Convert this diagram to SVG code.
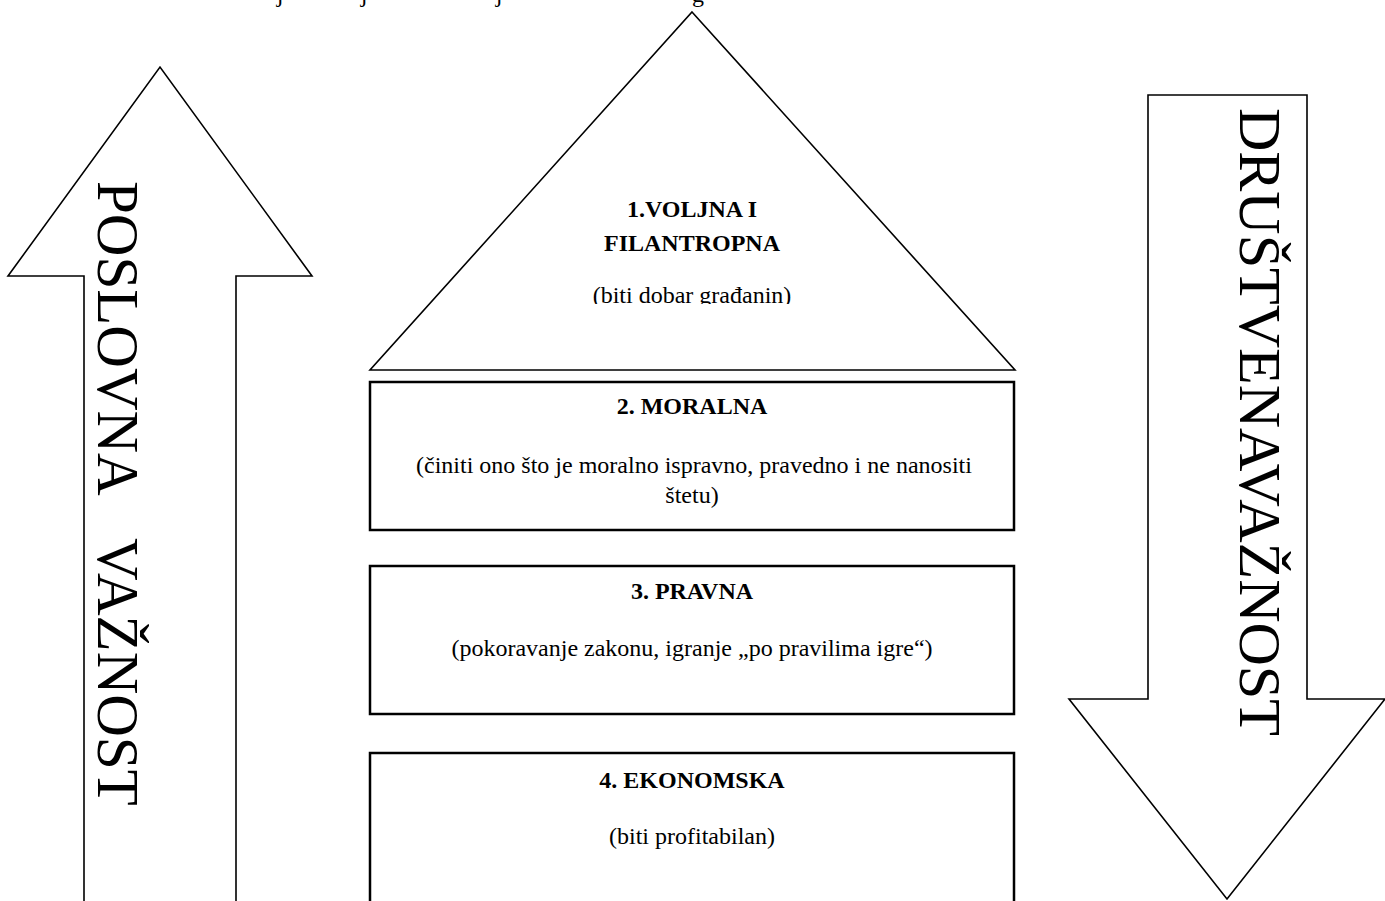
<svg xmlns="http://www.w3.org/2000/svg" width="1385" height="901" viewBox="0 0 1385 901">
<style>
.shape{fill:#fff;stroke:#000;stroke-width:1.6}
.box{fill:#fff;stroke:#000;stroke-width:2.5}
.h{font-family:"Liberation Serif","Times New Roman",serif;font-weight:bold;font-size:24px;text-anchor:middle;fill:#000}
.t{font-family:"Liberation Serif","Times New Roman",serif;font-size:24px;text-anchor:middle;fill:#000}
.v{font-family:"Liberation Serif","Times New Roman",serif;font-size:59px;fill:#000}
</style>
<defs>
<clipPath id="clipTri"><rect x="0" y="0" width="1385" height="304"/></clipPath>
</defs>
<rect x="0" y="0" width="1385" height="901" fill="#fff"/>
<g id="top-fragments">
<text class="t" x="280" y="2">j</text>
<text class="t" x="364" y="2">j</text>
<text class="t" x="499" y="2">j</text>
<text class="t" x="698" y="2">g</text>
</g>
<g id="arrow-left">
<path class="shape" d="M84,910 V276 H8 L160,67 L312,276 H236 V910"/>
<text class="v" transform="translate(98,181) rotate(90)">POSLOVNA</text>
<text class="v" transform="translate(98,538) rotate(90)">VAŽNOST</text>
</g>
<g id="arrow-right">
<path class="shape" d="M1148,95 H1307 V699 H1385 L1227,899 L1069,699 H1148 Z"/>
<text class="v" style="font-size:60px" transform="translate(1240,108) rotate(90)">DRUŠTVENAVAŽNOST</text>
</g>
<g id="level1">
<polygon class="shape" points="692,12 1015,370 370,370"/>
<text class="h" x="692" y="217">1.VOLJNA I</text>
<text class="h" x="692" y="251">FILANTROPNA</text>
<text class="t" x="692" y="303" clip-path="url(#clipTri)">(biti dobar građanin)</text>
</g>
<g id="level2">
<rect class="box" x="370" y="382" width="644" height="148"/>
<text class="h" x="692" y="414">2. MORALNA</text>
<text class="t" x="694" y="473">(činiti ono što je moralno ispravno, pravedno i ne nanositi</text>
<text class="t" x="692" y="503">štetu)</text>
</g>
<g id="level3">
<rect class="box" x="370" y="566" width="644" height="148"/>
<text class="h" x="692" y="599">3. PRAVNA</text>
<text class="t" x="692" y="656">(pokoravanje zakonu, igranje „po pravilima igre“)</text>
</g>
<g id="level4">
<rect class="box" x="370" y="753" width="644" height="200"/>
<text class="h" x="692" y="788">4. EKONOMSKA</text>
<text class="t" x="692" y="844">(biti profitabilan)</text>
</g>
<g id="connectors"></g>
</svg>
